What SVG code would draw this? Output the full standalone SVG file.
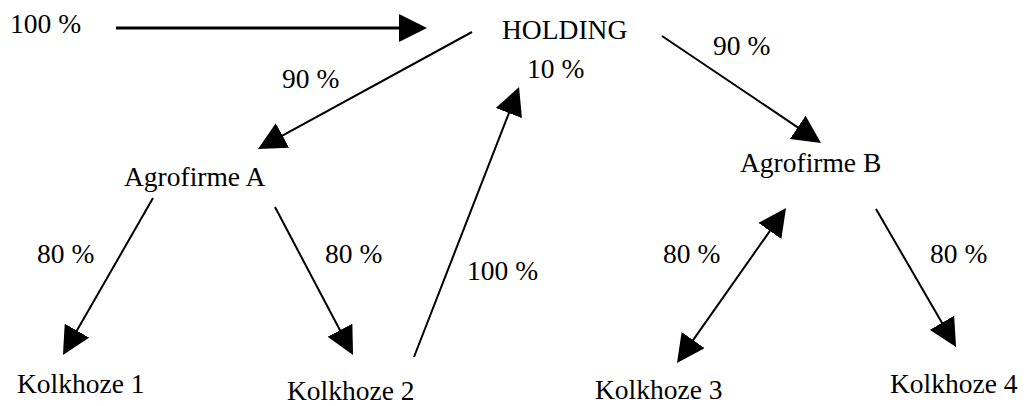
<svg xmlns="http://www.w3.org/2000/svg" width="1027" height="406" viewBox="0 0 1027 406">
<style>
text{font-family:"Liberation Serif","Times New Roman",serif;font-size:27.5px;fill:#000}
.c{stroke:#000;stroke-width:2;fill:none;marker-end:url(#ah)}
.thick{stroke-width:3}
.both{marker-start:url(#ah)}
</style>
<defs>
<marker id="ah" markerUnits="userSpaceOnUse" markerWidth="28" markerHeight="28" refX="8" refY="14" orient="auto-start-reverse" viewBox="0 0 28 28">
<path d="M0,0 L28,14 L0,28 Z" fill="#000"/>
</marker>
</defs>
<rect width="1027" height="406" fill="#fff"/>
<g id="connectors">
<line class="c thick" x1="116" y1="28" x2="407" y2="28"/>
<line class="c" x1="472" y1="32" x2="275.5" y2="139.4"/>
<line class="c" x1="153" y1="198" x2="72.9" y2="337.6"/>
<line class="c" x1="275" y1="207" x2="343.7" y2="337.3"/>
<line class="c" x1="414" y1="357" x2="511.8" y2="105.6"/>
<line class="c" x1="662" y1="36" x2="804.4" y2="131.8"/>
<line class="c both" x1="688.5" y1="346.6" x2="774.5" y2="224.4"/>
<line class="c" x1="876" y1="209" x2="946" y2="329.7"/>
</g>
<g id="labels">
<text x="10" y="33">100 %</text>
<text x="527" y="78">10 %</text>
<text x="282" y="88">90 %</text>
<text x="713" y="55">90 %</text>
<text x="37" y="263">80 %</text>
<text x="325" y="263">80 %</text>
<text x="467" y="280">100 %</text>
<text x="663" y="263">80 %</text>
<text x="930" y="263">80 %</text>
</g>
<g id="holding"><text x="502" y="39">HOLDING</text></g>
<g id="agrofirme-a"><text x="124" y="186">Agrofirme A</text></g>
<g id="agrofirme-b"><text x="740" y="172">Agrofirme B</text></g>
<g id="kolkhoze-1"><text x="17" y="393">Kolkhoze 1</text></g>
<g id="kolkhoze-2"><text x="287" y="400">Kolkhoze 2</text></g>
<g id="kolkhoze-3"><text x="595" y="399">Kolkhoze 3</text></g>
<g id="kolkhoze-4"><text x="890" y="393">Kolkhoze 4</text></g>
</svg>
